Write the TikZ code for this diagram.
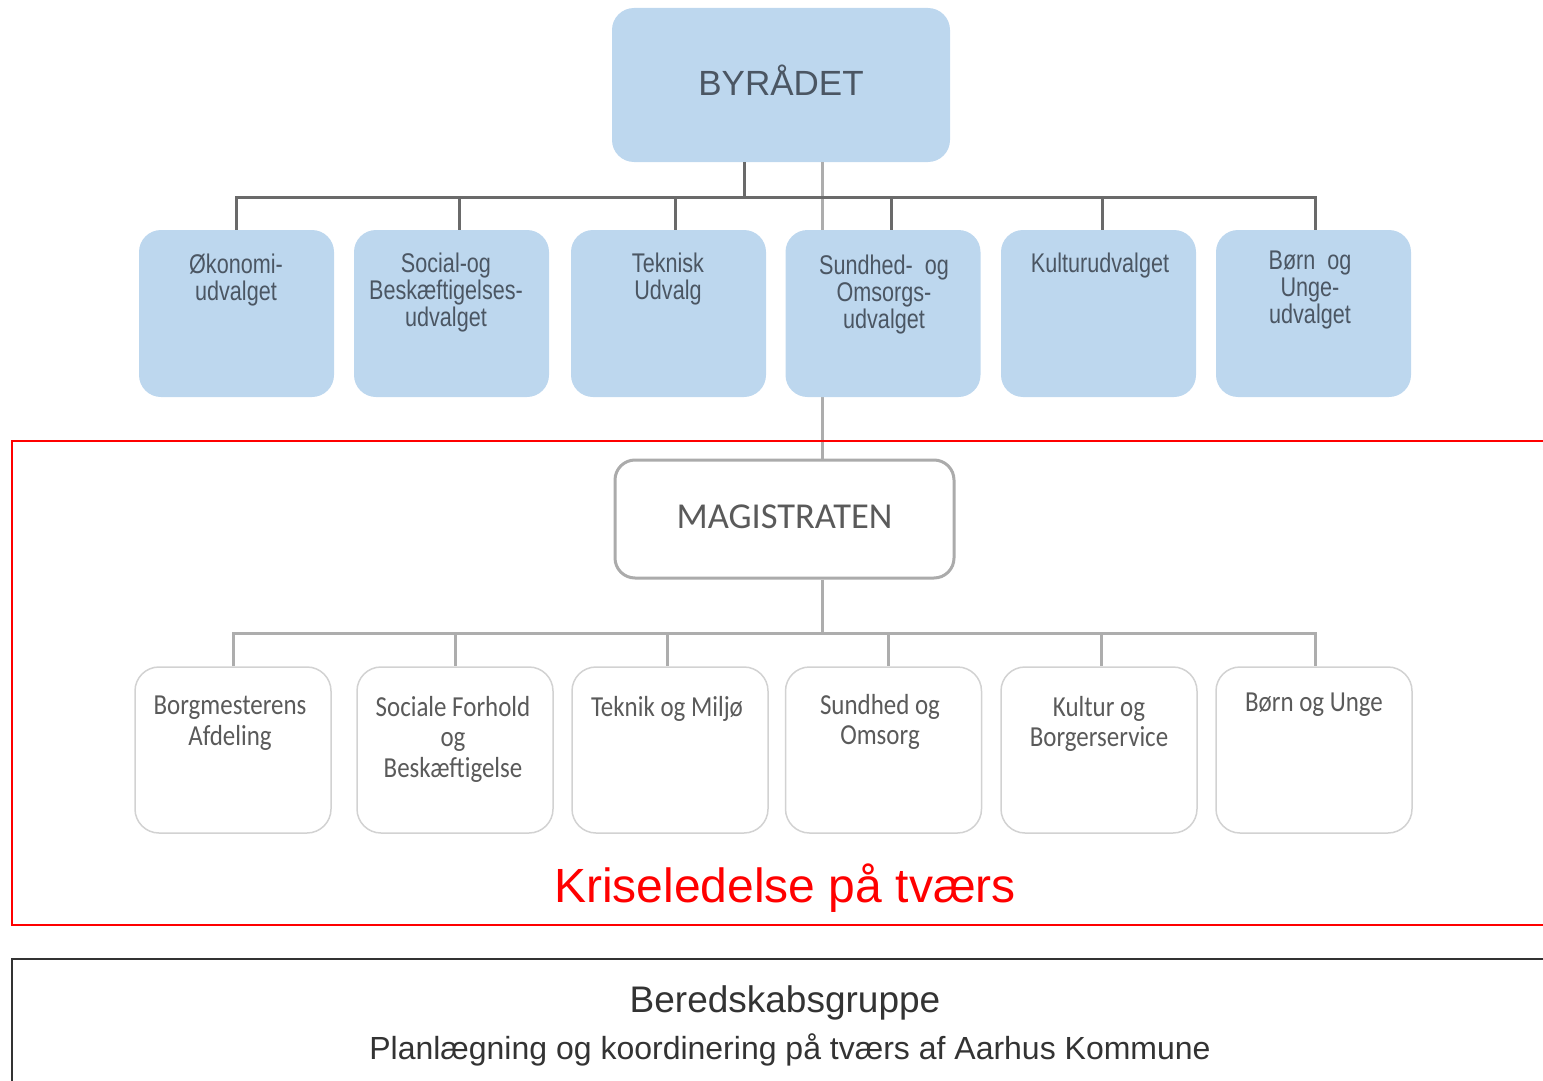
\documentclass[tikz,border=0pt]{standalone}
\usepackage{fontspec}
\setmainfont{Liberation Sans}
\newfontfamily\topfont[FakeStretch=0.8]{Liberation Sans}
\newfontfamily\calfont{Carlito}
\newfontfamily\calnarrow[FakeStretch=0.86]{Carlito}
\definecolor{topblue}{HTML}{BDD7EE}
\definecolor{toptext}{HTML}{4B5663}
\definecolor{darkline}{HTML}{6A6A6A}
\definecolor{lightline}{HTML}{ADADAD}
\definecolor{magborder}{HTML}{ABABAB}
\definecolor{boxborder}{HTML}{D2D2D2}
\definecolor{graytext}{HTML}{5A5A5A}
\definecolor{darktext}{HTML}{333333}
\tikzset{
  bluebox/.style={rectangle, rounded corners=22pt, fill=topblue, inner sep=0pt},
  udvbox/.style={bluebox, minimum width=195pt, minimum height=167pt},
  udvtext/.style={anchor=north, inner sep=0pt, align=center, text=toptext,
    font=\topfont\fontsize{27}{27}\selectfont},
  magbox/.style={rectangle, rounded corners=20pt, draw=magborder, line width=3pt, fill=white,
    minimum width=339pt, minimum height=118pt, inner sep=0pt},
  forvbox/.style={rectangle, rounded corners=24pt, draw=boxborder, line width=1.5pt, fill=white,
    minimum width=196pt, minimum height=166pt, inner sep=0pt},
  forvtext/.style={anchor=north, inner sep=0pt, align=center, text=graytext,
    font=\calnarrow\fontsize{29}{30.5}\selectfont},
  darkconn/.style={draw=darkline, line width=3pt},
  lightconn/.style={draw=lightline, line width=3pt},
}
\begin{document}
\begin{tikzpicture}[x=1pt,y=-1pt]
\useasboundingbox (0,0) rectangle (1543,1081);
% background light vertical line (behind boxes)
\coordinate (lv) at (822,162);
% top
\node[bluebox, minimum width=338pt, minimum height=154pt] (byr) at (781,85) {};
\draw[lightconn] (byr.south -| lv) -- (822,460);
\node[text=toptext, font=\fontsize{35}{35}\selectfont, inner sep=0pt] (byrt) at (781,80) {BYRÅDET};
% udvalg boxes
\node[udvbox] (u1) at (236.5,313.5) {};
\node[udvbox] (u2) at (451.5,313.5) {};
\node[udvbox] (u3) at (668.5,313.5) {};
\node[udvbox] (u4) at (883,313.5) {};
\node[udvbox] (u5) at (1098.5,313.5) {};
\node[udvbox] (u6) at (1313.5,313.5) {};
\node[udvtext] (t1) at (236,254) {Økonomi-\\udvalget};
\node[udvtext] (t2) at (446,253) {Social-og\\Beskæftigelses-\\udvalget};
\node[udvtext] (t3) at (668,253) {Teknisk\\Udvalg};
\node[udvtext] (t4) at (884,255) {Sundhed-\ \ og\\Omsorgs-\\udvalget};
\node[udvtext] (t5) at (1100,253) {Kulturudvalget};
\node[udvtext] (t6) at (1310,251) {Børn\ \ og\\Unge-\\udvalget};
% dark bus
\coordinate (b0) at (744,197);
\coordinate (d1) at (236,197);
\coordinate (d2) at (459,197);
\coordinate (d3) at (675,197);
\coordinate (d4) at (891,197);
\coordinate (d5) at (1102,197);
\coordinate (d6) at (1315,197);
\draw[darkconn] (byr.south -| b0) -- (b0);
\draw[darkconn] (d1 |- u1.north) -- (d1) -- (d6) -- (d6 |- u6.north);
\draw[darkconn] (d2) -- (d2 |- u2.north);
\draw[darkconn] (d3) -- (d3 |- u3.north);
\draw[darkconn] (d4) -- (d4 |- u4.north);
\draw[darkconn] (d5) -- (d5 |- u5.north);
% red frame
\draw[red, line width=2.2pt] (1550,441) -- (12,441) -- (12,925) -- (1550,925);
% magistraten
\node[magbox] (mag) at (784.5,519) {};
\node[text=graytext, font=\calfont\fontsize{36.5}{36.5}\selectfont, inner sep=0pt] (magt) at (784.5,517) {MAGISTRATEN};
% forvaltning boxes
\node[forvbox] (f1) at (233,750) {};
\node[forvbox] (f2) at (455,750) {};
\node[forvbox] (f3) at (670,750) {};
\node[forvbox] (f4) at (883.5,750) {};
\node[forvbox] (f5) at (1099,750) {};
\node[forvbox] (f6) at (1314,750) {};
\node[forvtext] (g1) at (230,696) {Borgmesterens\\Afdeling};
\node[forvtext] (g2) at (453,696) {Sociale Forhold\\og\\Beskæftigelse};
\node[forvtext] (g3) at (667,696) {Teknik og Miljø};
\node[forvtext] (g4) at (880,694) {Sundhed og\\Omsorg};
\node[forvtext] (g5) at (1099,696) {Kultur og\\Borgerservice};
\node[forvtext] (g6) at (1314,693) {Børn og Unge};
% light bus
\coordinate (m0) at (822,633);
\coordinate (e1) at (233,633);
\coordinate (e2) at (455,633);
\coordinate (e3) at (667,633);
\coordinate (e4) at (888,633);
\coordinate (e5) at (1101,633);
\coordinate (e6) at (1315,633);
\draw[lightconn] (mag.south -| m0) -- (m0);
\draw[lightconn] (e1 |- f1.north) -- (e1) -- (e6) -- (e6 |- f6.north);
\draw[lightconn] (e2) -- (e2 |- f2.north);
\draw[lightconn] (e3) -- (e3 |- f3.north);
\draw[lightconn] (e4) -- (e4 |- f4.north);
\draw[lightconn] (e5) -- (e5 |- f5.north);
% red caption
\node[text=red, font=\fontsize{48}{48}\selectfont, inner sep=0pt] (krise) at (785,888) {Kriseledelse på tværs};
% bottom frame
\draw[darktext, line width=2.5pt] (1550,959) -- (12,959) -- (12,1090);
\node[text=darktext, font=\fontsize{37}{37}\selectfont, inner sep=0pt] (bered) at (785,1003) {Beredskabsgruppe};
\node[text=darktext, font=\fontsize{32}{32}\selectfont, inner sep=0pt] (plan) at (790,1050) {Planlægning og koordinering på tværs af Aarhus Kommune};
\end{tikzpicture}
\end{document}
